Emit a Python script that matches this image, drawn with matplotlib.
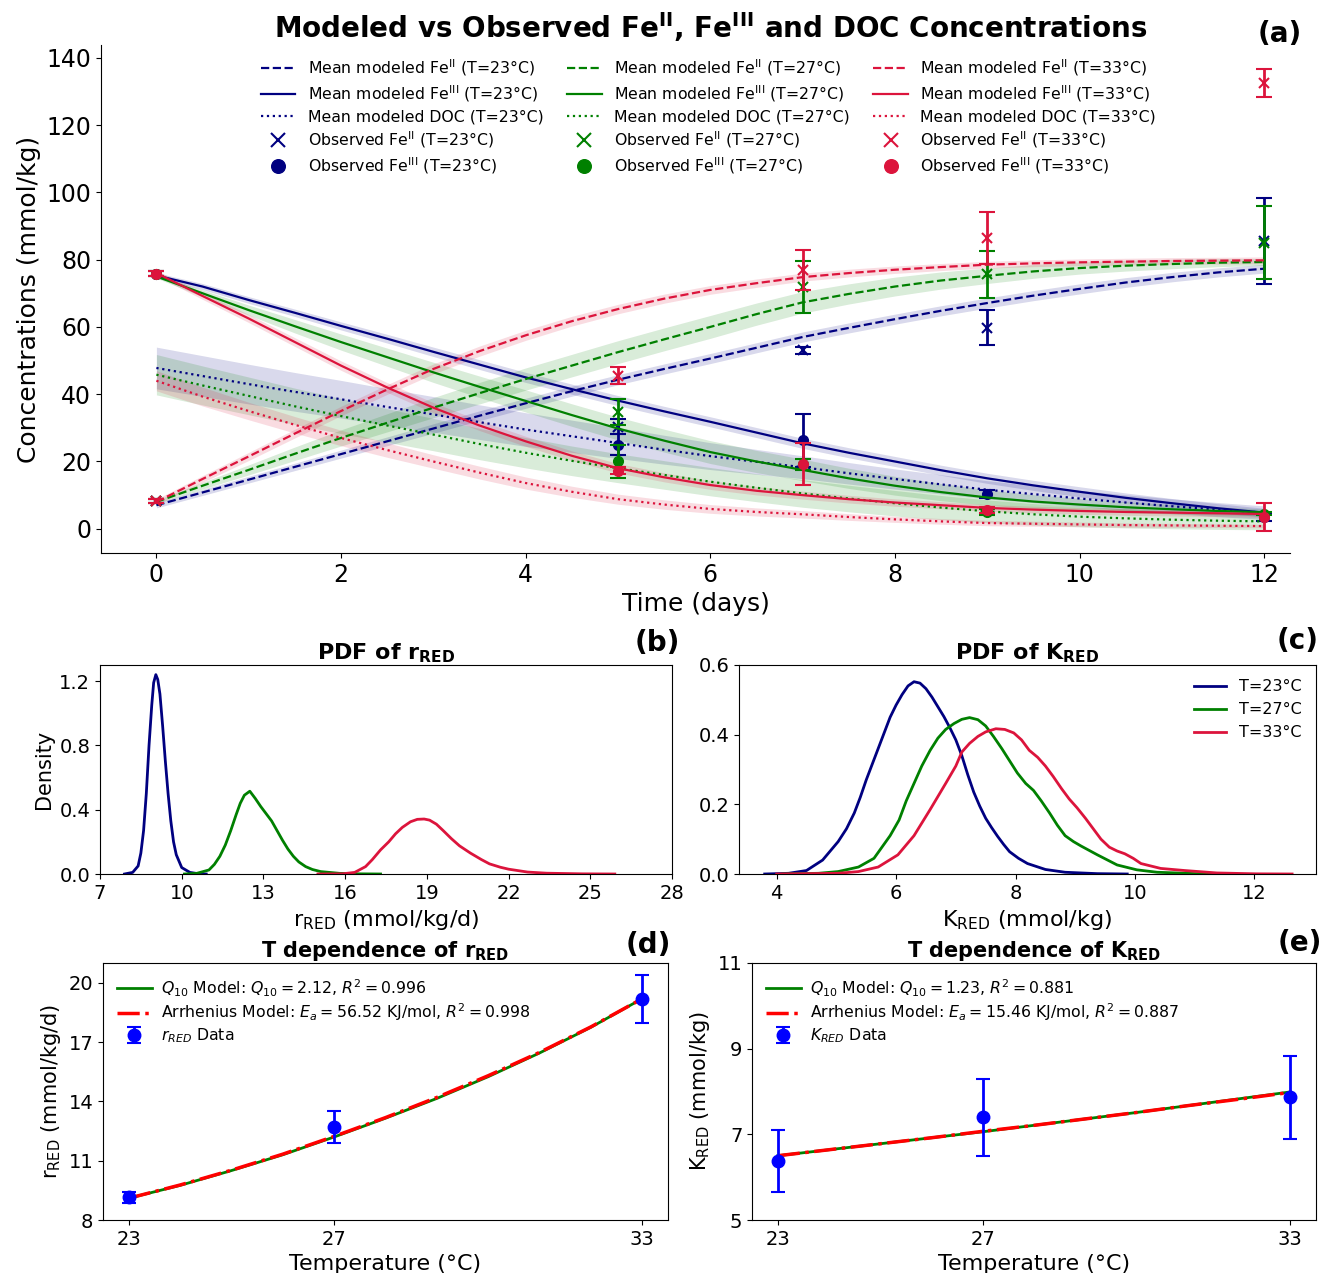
import numpy as np
import matplotlib
matplotlib.use("Agg")
import matplotlib.pyplot as plt

# ---------------- data: panel (a) ----------------
t_model = [0, 0.5, 1, 1.5, 2, 2.5, 3, 3.5, 4, 4.5, 5, 5.5, 6, 6.5, 7, 7.5, 8, 8.5, 9, 9.5, 10, 10.5, 11, 11.5, 12]
temps = ["23", "27", "33"]
colors = ["#000080", "#008000", "#DC143C"]

feII_model = {
    "23": [7, 10.8, 14.6, 18.4, 22.2, 26, 29.8, 33.6, 37.3, 40.9, 44.3, 47.5, 50.6, 53.8, 57, 59.7, 62.3, 64.8, 67.1, 69.3, 71.3, 73.2, 74.8, 76.2, 77.3],
    "27": [8, 12.8, 17.5, 22.3, 27, 31.5, 36, 40.3, 44.5, 48.5, 52.5, 56.3, 60, 63.8, 67.3, 69.8, 72, 73.8, 75.2, 76.5, 77.5, 78.2, 78.7, 79.1, 79.3],
    "33": [8, 14.8, 21.5, 28.3, 35, 41.4, 47.5, 52.8, 57.5, 61.7, 65.3, 68.4, 71, 73, 74.8, 76, 77, 77.8, 78.5, 78.9, 79.2, 79.4, 79.6, 79.7, 79.8],
}
feIII_model = {
    "23": [75.3, 72, 68, 64.2, 60.3, 56.5, 52.6, 48.8, 45, 41.5, 38.1, 34.9, 31.8, 28.6, 25.4, 22.6, 20, 17.4, 15, 12.9, 11, 9.2, 7.6, 6.1, 4.8],
    "27": [75, 70, 65, 60.2, 55.5, 51, 46.5, 42.2, 38, 33.8, 29.8, 26.2, 22.8, 20, 17.5, 15, 12.8, 10.9, 9.3, 8.1, 7.2, 6.4, 5.8, 5.3, 4.9],
    "33": [76, 69.2, 62.5, 55.5, 48.5, 42, 36, 30.7, 26, 21.7, 18, 15.3, 13, 11.3, 10, 8.8, 7.8, 7, 6.2, 5.7, 5.3, 5, 4.8, 4.6, 4.4],
}
fe_band = {
    "23": [0.8, 0.9, 1.0, 1.1, 1.2, 1.3, 1.4, 1.45, 1.5, 1.5, 1.5, 1.5, 1.5, 1.5, 1.5, 1.5, 1.5, 1.5, 1.5, 1.5, 1.5, 1.45, 1.4, 1.35, 1.3],
    "27": [0.5, 1.0, 1.5, 2.0, 2.4, 2.7, 3.0, 3.2, 3.3, 3.35, 3.4, 3.4, 3.4, 3.3, 3.2, 3.0, 2.8, 2.55, 2.3, 2.05, 1.8, 1.6, 1.4, 1.2, 1.0],
    "33": [0.8, 1.0, 1.2, 1.3, 1.4, 1.45, 1.5, 1.5, 1.5, 1.45, 1.4, 1.35, 1.3, 1.25, 1.2, 1.15, 1.1, 1.05, 1.0, 1.0, 1.0, 1.0, 1.0, 1.0, 1.0],
}
doc_model = {
    "23": [47.8, 45.4, 43, 40.7, 38.5, 36.2, 34, 31.7, 29.5, 27.5, 25.5, 23.5, 21.6, 19.9, 18.3, 16.5, 14.8, 13.2, 11.6, 10.3, 9, 7.8, 6.7, 5.7, 4.8],
    "27": [45.8, 42.6, 39.5, 36.4, 33.5, 30.7, 28, 25.2, 22.6, 20.2, 18, 16, 14, 12.2, 10.5, 9, 7.6, 6.3, 5.2, 4.3, 3.6, 3.1, 2.7, 2.4, 2.2],
    "33": [44, 39.3, 35, 30.9, 27, 23.4, 20, 16.7, 13.6, 11, 8.8, 7.2, 5.9, 5, 4.3, 3.5, 2.8, 2.2, 1.7, 1.5, 1.3, 1.1, 1.0, 0.9, 0.8],
}
doc_band = {
    "23": [6.2, 6.05, 5.9, 5.75, 5.6, 5.45, 5.3, 5.15, 5.0, 4.8, 4.6, 4.3, 4.0, 3.7, 3.4, 3.2, 3.0, 2.85, 2.7, 2.55, 2.4, 2.3, 2.2, 2.1, 2.0],
    "27": [6.0, 5.8, 5.6, 5.4, 5.2, 5.0, 4.8, 4.65, 4.5, 4.4, 4.3, 4.25, 4.2, 4.15, 4.1, 3.95, 3.8, 3.6, 3.4, 3.2, 3.0, 2.85, 2.7, 2.6, 2.5],
    "33": [3.0, 2.8, 2.6, 2.45, 2.3, 2.15, 2.0, 1.9, 1.8, 1.65, 1.5, 1.4, 1.3, 1.2, 1.1, 1.0, 0.9, 0.85, 0.8, 0.75, 0.7, 0.65, 0.6, 0.55, 0.5],
}

t_obs = [0, 5, 7, 9, 12]
feII_obs = {
    "23": [8.2, 30.4, 53.0, 59.7, 85.6],
    "27": [8.2, 34.7, 71.8, 75.7, 85.0],
    "33": [8.2, 45.5, 77.0, 86.5, 132.5],
}
feII_err = {
    "23": [0.6, 2.3, 0.9, 5.2, 12.7],
    "27": [0.6, 3.9, 7.8, 7.0, 10.9],
    "33": [0.6, 2.5, 6.0, 7.8, 4.2],
}
feIII_obs = {
    "23": [75.8, 25.0, 26.3, 10.3, 3.4],
    "27": [75.8, 20.0, 19.2, 5.0, 4.5],
    "33": [75.8, 17.3, 19.3, 5.6, 3.5],
}
feIII_err = {
    "23": [0.8, 3.1, 7.9, 1.3, 1.2],
    "27": [0.8, 5.0, 1.6, 1.0, 0.5],
    "33": [0.8, 1.0, 6.3, 1.0, 4.1],
}

# ---------------- data: panel (b) PDF of r_RED ----------------
r_x = {
    "23": [7.9, 8.2, 8.4, 8.5, 8.6, 8.7, 8.8, 8.9, 8.97, 9.05, 9.12, 9.2, 9.3, 9.4, 9.5, 9.6, 9.7, 9.8, 10.0, 10.3, 10.6, 10.9],
    "27": [10.1, 10.55, 11.0, 11.2, 11.4, 11.6, 11.8, 12.0, 12.15, 12.3, 12.5, 12.7, 12.9, 13.1, 13.3, 13.5, 13.7, 13.9, 14.1, 14.3, 14.55, 14.8, 15.1, 15.8, 16.5, 17.3],
    "33": [15.0, 15.9, 16.35, 16.75, 17.0, 17.3, 17.6, 17.85, 18.1, 18.4, 18.65, 18.9, 19.1, 19.35, 19.6, 19.9, 20.2, 20.6, 21.0, 21.3, 21.7, 22.0, 22.7, 23.4, 24.7, 25.9],
}
r_y = {
    "23": [0, 0.01, 0.05, 0.13, 0.27, 0.5, 0.8, 1.05, 1.19, 1.24, 1.21, 1.12, 0.92, 0.7, 0.5, 0.33, 0.2, 0.12, 0.04, 0.01, 0.002, 0],
    "27": [0, 0.004, 0.025, 0.06, 0.11, 0.18, 0.27, 0.37, 0.44, 0.49, 0.515, 0.47, 0.42, 0.375, 0.33, 0.27, 0.21, 0.155, 0.11, 0.075, 0.046, 0.028, 0.015, 0.004, 0.001, 0],
    "33": [0, 0.001, 0.01, 0.046, 0.09, 0.15, 0.2, 0.25, 0.29, 0.325, 0.34, 0.342, 0.335, 0.31, 0.27, 0.22, 0.175, 0.13, 0.09, 0.063, 0.042, 0.03, 0.012, 0.005, 0.001, 0],
}

# ---------------- data: panel (c) PDF of K_RED ----------------
k_x = {
    "23": [3.8, 4.2, 4.5, 4.77, 5.03, 5.17, 5.3, 5.4, 5.5, 5.6, 5.7, 5.8, 5.9, 6.0, 6.1, 6.2, 6.3, 6.4, 6.5, 6.6, 6.7, 6.8, 6.9, 7.0, 7.1, 7.2, 7.3, 7.4, 7.5, 7.6, 7.7, 7.8, 7.9, 8.05, 8.2, 8.5, 8.83, 9.37, 9.87],
    "27": [4.1, 4.7, 5.03, 5.37, 5.63, 5.9, 6.05, 6.17, 6.3, 6.43, 6.57, 6.7, 6.83, 6.97, 7.1, 7.23, 7.37, 7.5, 7.63, 7.77, 7.9, 8.03, 8.17, 8.3, 8.43, 8.57, 8.7, 8.83, 8.97, 9.1, 9.37, 9.7, 10.03, 10.37, 11.03, 11.6],
    "33": [4.0, 5.03, 5.37, 5.7, 6.03, 6.3, 6.57, 6.83, 7.0, 7.1, 7.23, 7.37, 7.5, 7.67, 7.82, 7.97, 8.1, 8.23, 8.37, 8.5, 8.63, 8.77, 8.9, 9.03, 9.17, 9.3, 9.43, 9.57, 9.7, 9.83, 9.97, 10.1, 10.43, 10.83, 11.37, 12.03, 12.63],
}
k_y = {
    "23": [0, 0.002, 0.01, 0.04, 0.093, 0.13, 0.175, 0.22, 0.27, 0.315, 0.36, 0.405, 0.45, 0.485, 0.515, 0.54, 0.552, 0.548, 0.532, 0.508, 0.48, 0.452, 0.42, 0.385, 0.34, 0.285, 0.235, 0.195, 0.16, 0.133, 0.108, 0.085, 0.064, 0.045, 0.03, 0.013, 0.005, 0.001, 0],
    "27": [0, 0.002, 0.007, 0.02, 0.045, 0.11, 0.155, 0.21, 0.26, 0.31, 0.355, 0.39, 0.415, 0.432, 0.444, 0.449, 0.443, 0.425, 0.395, 0.36, 0.325, 0.29, 0.26, 0.24, 0.21, 0.175, 0.14, 0.11, 0.093, 0.08, 0.055, 0.026, 0.012, 0.005, 0.001, 0],
    "33": [0, 0.002, 0.007, 0.02, 0.055, 0.11, 0.185, 0.26, 0.31, 0.35, 0.375, 0.395, 0.408, 0.417, 0.415, 0.405, 0.385, 0.355, 0.335, 0.31, 0.28, 0.245, 0.215, 0.19, 0.16, 0.13, 0.1, 0.077, 0.066, 0.058, 0.045, 0.03, 0.016, 0.01, 0.003, 0.0005, 0],
}

# ---------------- data: panels (d), (e) ----------------
T_data = [23, 27, 33]
r_data = [9.16, 12.7, 19.19]
r_err = [0.28, 0.83, 1.2]
K_data = [6.38, 7.4, 7.87]
K_err = [0.72, 0.9, 0.97]
T_fit = [23, 24, 25, 26, 27, 28, 29, 30, 31, 32, 33]
r_q10 = [9.1, 9.75, 10.5, 11.3, 12.2, 13.15, 14.15, 15.25, 16.45, 17.75, 19.2]
r_arr = [9.1, 9.77, 10.52, 11.33, 12.23, 13.18, 14.2, 15.3, 16.48, 17.77, 19.2]
K_q10 = [6.5, 6.64, 6.78, 6.92, 7.06, 7.21, 7.36, 7.51, 7.67, 7.83, 7.99]
K_arr = [6.5, 6.64, 6.78, 6.92, 7.07, 7.21, 7.36, 7.51, 7.67, 7.82, 7.98]

# ---------------- figure ----------------
W, H = 1322, 1273
fig = plt.figure(figsize=(W / 100, H / 100), dpi=100)


def rect(l, t, r, b):
    return [l / W, 1 - b / H, (r - l) / W, (b - t) / H]


ax = fig.add_axes(rect(101, 45, 1290, 553))
t = np.array(t_model)
for T, c in zip(temps, colors):
    m2 = np.array(feII_model[T]); m3 = np.array(feIII_model[T]); b = np.array(fe_band[T])
    md = np.array(doc_model[T]); bd = np.array(doc_band[T])
    ax.plot(t, m2, "--", color=c, lw=1.6, label=f"Mean modeled Fe$^{{\\rm II}}$ (T={T}°C)")
    ax.fill_between(t, m2 - b, m2 + b, color=c, alpha=0.15, lw=0)
    ax.plot(t, m3, "-", color=c, lw=1.6, label=f"Mean modeled Fe$^{{\\rm III}}$ (T={T}°C)")
    ax.fill_between(t, m3 - b, m3 + b, color=c, alpha=0.15, lw=0)
    ax.plot(t, md, ":", color=c, lw=1.6, label=f"Mean modeled DOC (T={T}°C)")
    ax.fill_between(t, md - bd, md + bd, color=c, alpha=0.15, lw=0)
    ax.plot(t_obs, feII_obs[T], "x", color=c, ms=7, mew=1.5, label=f"Observed Fe$^{{\\rm II}}$ (T={T}°C)")
    ax.errorbar(t_obs, feII_obs[T], yerr=feII_err[T], fmt="none", ecolor=c, capsize=6, elinewidth=2, capthick=1.5)
    ax.plot(t_obs, feIII_obs[T], "o", color=c, ms=7, label=f"Observed Fe$^{{\\rm III}}$ (T={T}°C)")
    ax.errorbar(t_obs, feIII_obs[T], yerr=feIII_err[T], fmt="none", ecolor=c, capsize=6, elinewidth=2, capthick=1.5)

ax.set_xlim(-0.6, 12.28)
ax.set_ylim(-7.2, 143.8)
ax.set_yticks([0, 20, 40, 60, 80, 100, 120, 140])
ax.set_xticks([0, 2, 4, 6, 8, 10, 12])
ax.tick_params(labelsize=17)
ax.spines["top"].set_visible(False)
ax.spines["right"].set_visible(False)
ax.set_xlabel("Time (days)", fontsize=18)
ax.set_ylabel("Concentrations (mmol/kg)", fontsize=18)
ax.legend(ncol=3, loc="upper left", bbox_to_anchor=(0.129, 0.988), frameon=False,
          fontsize=11.3, columnspacing=1.5, handlelength=2.2, labelspacing=0.33,
          markerscale=1.4, borderaxespad=0)
fig.text(711 / W, 1 - 27 / H, "Modeled vs Observed Fe$^{\\mathbf{II}}$, Fe$^{\\mathbf{III}}$ and DOC Concentrations",
         ha="center", va="center", fontsize=20, fontweight="bold")
fig.text(1280 / W, 1 - 34 / H, "(a)", ha="center", va="center", fontsize=20, fontweight="bold")

# (b)
axb = fig.add_axes(rect(100, 665, 672, 874))
for T, c in zip(temps, colors):
    axb.plot(r_x[T], r_y[T], color=c, lw=2)
axb.set_xlim(7, 28)
axb.set_ylim(0, 1.3)
axb.set_xticks([7, 10, 13, 16, 19, 22, 25, 28])
axb.set_yticks([0.0, 0.4, 0.8, 1.2])
axb.tick_params(labelsize=14)
axb.set_xlabel("r$_{\\rm RED}$ (mmol/kg/d)", fontsize=16)
axb.set_ylabel("Density", fontsize=15)
axb.set_title("PDF of r$_{\\mathbf{RED}}$", fontsize=16, fontweight="bold", pad=4)
fig.text(657 / W, 1 - 643 / H, "(b)", ha="center", va="center", fontsize=20, fontweight="bold")

# (c)
axc = fig.add_axes(rect(739, 665, 1316, 874))
for T, c in zip(temps, colors):
    axc.plot(k_x[T], k_y[T], color=c, lw=2, label=f"T={T}°C")
axc.set_xlim(3.37, 13.03)
axc.set_ylim(0, 0.6)
axc.set_xticks([4, 6, 8, 10, 12])
axc.set_yticks([0.0, 0.2, 0.4, 0.6])
axc.tick_params(labelsize=14)
axc.set_xlabel("K$_{\\rm RED}$ (mmol/kg)", fontsize=16)
axc.set_title("PDF of K$_{\\mathbf{RED}}$", fontsize=16, fontweight="bold", pad=4)
axc.legend(loc="upper right", frameon=False, fontsize=11.5, labelspacing=0.5)
fig.text(1298 / W, 1 - 641 / H, "(c)", ha="center", va="center", fontsize=20, fontweight="bold")

# (d)
axd = fig.add_axes(rect(103, 963, 668, 1220))
axd.plot(T_fit, r_q10, "-", color="green", lw=2, label="$Q_{10}$ Model: $Q_{10}=2.12$, $R^2=0.996$")
axd.plot(T_fit, r_arr, "-.", color="red", lw=2.5, label="Arrhenius Model: $E_a=56.52$ KJ/mol, $R^2=0.998$")
axd.errorbar(T_data, r_data, yerr=r_err, fmt="o", color="blue", ms=9, capsize=5, elinewidth=2, capthick=1.5,
             label="$r_{RED}$ Data")
axd.set_xlim(22.5, 33.5)
axd.set_ylim(8, 21)
axd.set_xticks([23, 27, 33])
axd.set_yticks([8, 11, 14, 17, 20])
axd.tick_params(labelsize=14)
axd.set_xlabel("Temperature (°C)", fontsize=16)
axd.set_ylabel("r$_{\\rm RED}$ (mmol/kg/d)", fontsize=15)
axd.set_title("T dependence of r$_{\\mathbf{RED}}$", fontsize=15, fontweight="bold", pad=4)
axd.legend(loc="upper left", frameon=False, fontsize=11.3, labelspacing=0.2, handlelength=2.2, handletextpad=0.6)
fig.text(648 / W, 1 - 945 / H, "(d)", ha="center", va="center", fontsize=20, fontweight="bold")

# (e)
axe = fig.add_axes(rect(752, 963, 1316, 1220))
axe.plot(T_fit, K_q10, "-", color="green", lw=2, label="$Q_{10}$ Model: $Q_{10}=1.23$, $R^2=0.881$")
axe.plot(T_fit, K_arr, "-.", color="red", lw=2.5, label="Arrhenius Model: $E_a=15.46$ KJ/mol, $R^2=0.887$")
axe.errorbar(T_data, K_data, yerr=K_err, fmt="o", color="blue", ms=9, capsize=5, elinewidth=2, capthick=1.5,
             label="$K_{RED}$ Data")
axe.set_xlim(22.5, 33.5)
axe.set_ylim(5, 11)
axe.set_xticks([23, 27, 33])
axe.set_yticks([5, 7, 9, 11])
axe.tick_params(labelsize=14)
axe.set_xlabel("Temperature (°C)", fontsize=16)
axe.set_ylabel("K$_{\\rm RED}$ (mmol/kg)", fontsize=15)
axe.set_title("T dependence of K$_{\\mathbf{RED}}$", fontsize=15, fontweight="bold", pad=4)
axe.legend(loc="upper left", frameon=False, fontsize=11.3, labelspacing=0.2, handlelength=2.2, handletextpad=0.6)
fig.text(1300 / W, 1 - 943 / H, "(e)", ha="center", va="center", fontsize=20, fontweight="bold")

fig.savefig("out.png", dpi=100)
